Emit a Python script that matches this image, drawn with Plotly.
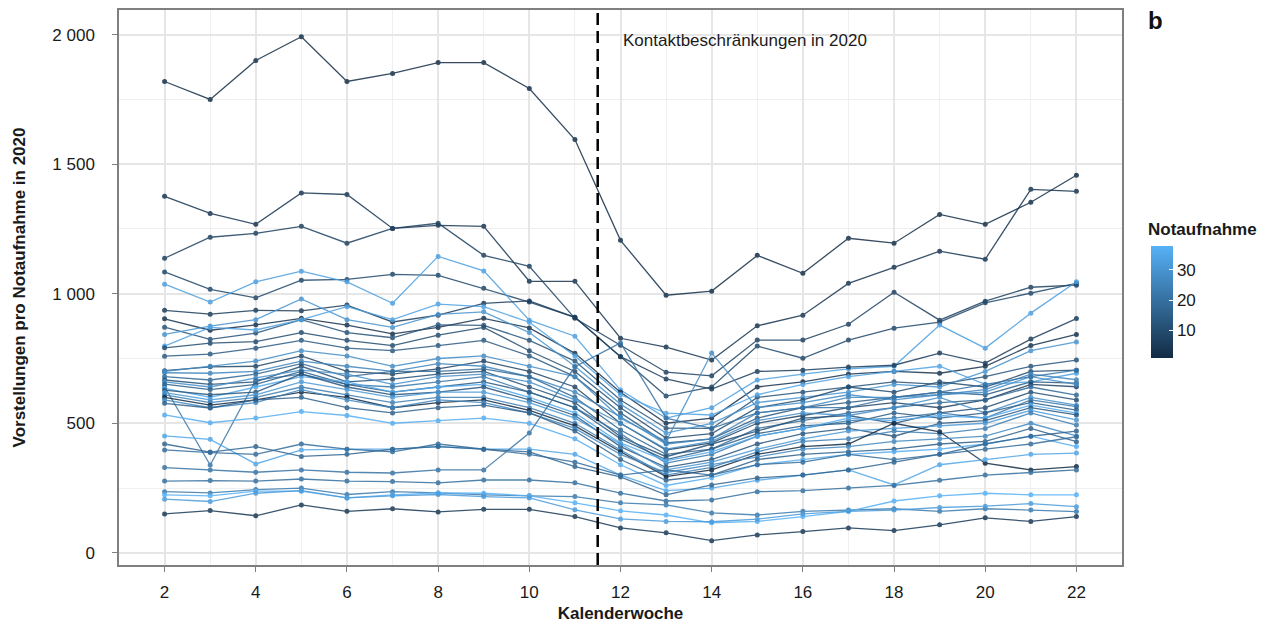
import plotly.graph_objects as go

# Calendar weeks shown on the x axis
weeks = list(range(2, 23))

# Emergency department identifiers (colour scale)
dept_ids = [2, 4, 7, 9, 33, 6, 3, 12, 30, 34, 10, 14, 8, 26, 18, 11, 29, 22, 15, 36,
            13, 31, 24, 1, 27, 16, 37, 28, 35, 17, 19, 21, 20, 23, 38, 32, 5]

# Weekly presentations per emergency department (weeks 2..22)
visits = [
    [1819, 1750, 1900, 1992, 1819, 1850, 1892, 1892, 1792, 1595, 1206, 994, 1010, 1148, 1079, 1214, 1195, 1306, 1268, 1353, 1457],
    [1376, 1310, 1268, 1389, 1383, 1252, 1264, 1260, 1048, 1048, 828, 794, 744, 876, 917, 1040, 1102, 1164, 1133, 1403, 1395],
    [1137, 1218, 1233, 1260, 1195, 1252, 1272, 1148, 1106, 905, 801, 697, 683, 821, 821, 882, 1006, 898, 971, 1025, 1033],
    [1084, 1017, 984, 1052, 1055, 1075, 1071, 1021, 968, 909, 758, 605, 640, 798, 751, 821, 867, 890, 965, 1002, 1040],
    [1037, 968, 1046, 1087, 1046, 963, 1144, 1088, 898, 836, 628, 520, 560, 667, 690, 710, 720, 879, 790, 925, 1046],
    [936, 921, 936, 934, 956, 891, 917, 963, 972, 909, 757, 671, 632, 700, 705, 717, 724, 771, 732, 825, 904],
    [903, 859, 880, 905, 879, 845, 870, 905, 868, 770, 620, 500, 520, 640, 660, 690, 700, 693, 720, 800, 843],
    [871, 824, 848, 900, 850, 830, 880, 878, 820, 740, 590, 481, 480, 600, 620, 640, 660, 650, 680, 720, 744],
    [843, 875, 900, 980, 900, 870, 920, 930, 850, 720, 574, 462, 500, 580, 600, 620, 650, 640, 700, 780, 814],
    [798, 870, 860, 900, 950, 900, 960, 950, 890, 760, 610, 539, 532, 610, 650, 680, 700, 720, 650, 660, 693],
    [791, 809, 815, 850, 820, 800, 840, 870, 780, 700, 560, 443, 460, 560, 590, 640, 620, 660, 640, 700, 705],
    [759, 767, 790, 820, 790, 780, 800, 820, 760, 680, 540, 424, 440, 520, 560, 580, 600, 620, 610, 660, 655],
    [703, 718, 720, 760, 700, 690, 710, 740, 700, 640, 500, 397, 424, 500, 530, 560, 580, 560, 590, 650, 641],
    [695, 693, 700, 740, 720, 700, 730, 720, 680, 620, 525, 420, 440, 540, 560, 600, 600, 610, 630, 690, 668],
    [680, 667, 690, 730, 680, 700, 700, 710, 680, 600, 474, 380, 400, 480, 510, 540, 560, 580, 590, 640, 609],
    [667, 650, 660, 720, 660, 670, 690, 700, 640, 580, 448, 371, 420, 470, 520, 530, 500, 540, 560, 620, 590],
    [660, 640, 675, 705, 690, 650, 680, 690, 660, 590, 500, 400, 430, 510, 540, 530, 560, 600, 540, 600, 570],
    [641, 339, 667, 690, 650, 640, 660, 680, 620, 560, 460, 346, 380, 450, 480, 510, 520, 540, 520, 590, 564],
    [651, 630, 650, 700, 650, 620, 640, 660, 620, 560, 440, 360, 400, 460, 490, 500, 540, 520, 540, 580, 551],
    [635, 600, 640, 680, 660, 620, 640, 650, 600, 540, 424, 355, 390, 450, 480, 520, 510, 530, 520, 570, 539],
    [628, 610, 620, 690, 640, 610, 620, 640, 590, 530, 410, 330, 360, 420, 460, 480, 450, 500, 510, 560, 532],
    [618, 590, 610, 660, 630, 600, 620, 620, 580, 520, 420, 320, 350, 400, 440, 470, 480, 490, 500, 550, 513],
    [610, 580, 600, 640, 610, 580, 600, 600, 560, 500, 397, 300, 330, 390, 430, 440, 470, 460, 480, 540, 493],
    [600, 570, 590, 620, 600, 560, 580, 590, 550, 490, 390, 294, 320, 380, 410, 420, 500, 467, 346, 320, 333],
    [590, 560, 580, 630, 590, 560, 590, 580, 540, 480, 380, 310, 340, 370, 400, 410, 430, 440, 450, 500, 451],
    [577, 559, 590, 600, 560, 540, 560, 570, 540, 470, 360, 280, 300, 360, 380, 390, 400, 420, 430, 480, 429],
    [532, 502, 520, 545, 530, 500, 510, 520, 500, 440, 340, 260, 290, 340, 360, 380, 390, 400, 420, 450, 410],
    [700, 720, 740, 780, 760, 720, 750, 760, 720, 680, 520, 430, 771, 560, 580, 610, 590, 610, 620, 680, 650],
    [451, 438, 343, 397, 400, 400, 410, 400, 400, 380, 300, 240, 250, 280, 300, 320, 262, 340, 360, 380, 385],
    [420, 389, 410, 372, 380, 400, 410, 400, 390, 333, 293, 224, 262, 289, 300, 320, 350, 380, 420, 450, 470],
    [397, 387, 380, 420, 400, 390, 420, 400, 380, 350, 300, 320, 300, 340, 350, 380, 360, 380, 400, 420, 448],
    [329, 320, 311, 320, 311, 308, 320, 320, 462, 718, 810, 520, 480, 540, 560, 560, 600, 620, 650, 680, 705],
    [277, 279, 277, 285, 277, 275, 270, 281, 281, 270, 230, 200, 204, 236, 240, 250, 260, 280, 300, 310, 320],
    [236, 231, 244, 250, 225, 236, 231, 224, 220, 217, 193, 185, 154, 146, 160, 165, 170, 160, 170, 165, 159],
    [224, 220, 238, 238, 212, 224, 231, 230, 220, 193, 162, 146, 116, 121, 140, 160, 200, 220, 230, 224, 224],
    [207, 198, 230, 240, 212, 220, 225, 217, 212, 166, 131, 121, 120, 130, 150, 160, 165, 175, 180, 190, 178],
    [150, 163, 143, 185, 160, 170, 158, 168, 168, 140, 96, 77, 47, 69, 82, 96, 86, 108, 135, 121, 140],
]

y_tickvals = [0, 500, 1000, 1500, 2000]
y_ticktext = ["0", "500", "1 000", "1 500", "2 000"]
x_tickvals = [2, 4, 6, 8, 10, 12, 14, 16, 18, 20, 22]

id_min, id_max = 1, 38
low_rgb = (0x13, 0x2B, 0x43)
high_rgb = (0x56, 0xB1, 0xF7)


def id_colour(v):
    t = (v - id_min) / (id_max - id_min)
    r, g, b = (round(lo + (hi - lo) * t) for lo, hi in zip(low_rgb, high_rgb))
    return f"rgb({r},{g},{b})"


FONT = "Liberation Sans, Arial, sans-serif"
TXT = "#1a1a1a"

# plot area in pixels
L, R, T, B = 119, 1122, 8, 565
W, H = 1271, 629
pw, ph = R - L, B - T


def px_x(x):
    return (x - L) / pw


def px_y(y):
    return (B - y) / ph


fig = go.Figure()

for dept, series in zip(dept_ids, visits):
    c = id_colour(dept)
    fig.add_trace(go.Scatter(
        x=weeks, y=series, mode="lines+markers",
        line=dict(color=c, width=1.3),
        marker=dict(color=c, size=5),
        opacity=0.85, showlegend=False, hoverinfo="skip",
    ))

# colour bar for department id
fig.add_trace(go.Scatter(
    x=[None], y=[None], mode="markers", showlegend=False,
    marker=dict(
        color=[id_min, id_max], cmin=id_min, cmax=id_max,
        colorscale=[[0, "#132B43"], [1, "#56B1F7"]], showscale=True,
        colorbar=dict(
            tickvals=[10, 20, 30], ticks="inside", ticklen=4, tickcolor="white",
            tickfont=dict(family=FONT, size=17, color=TXT),
            thicknessmode="pixels", thickness=22,
            lenmode="pixels", len=112,
            x=px_x(1151), xanchor="left", y=px_y(357), yanchor="bottom",
            outlinewidth=0, xpad=0, ypad=0,
        ),
    ),
))

# start of contact restrictions
fig.add_vline(x=11.5, line=dict(color="black", width=2.5, dash="12px,6px"))

fig.add_annotation(x=12.0, y=1977, xref="x", yref="y", text="Kontaktbeschränkungen in 2020",
                   showarrow=False, xanchor="left", yanchor="middle",
                   font=dict(family=FONT, size=17, color=TXT))
fig.add_annotation(x=px_x(1155), y=px_y(19), xref="paper", yref="paper", text="<b>b</b>",
                   showarrow=False, xanchor="center", yanchor="middle",
                   font=dict(family=FONT, size=24, color="#111"))
fig.add_annotation(x=px_x(1146), y=px_y(228), xref="paper", yref="paper",
                   text="<b>Notaufnahme</b>", showarrow=False,
                   xanchor="left", yanchor="middle",
                   font=dict(family=FONT, size=17, color=TXT))

grid = "#e6e6e6"
fig.update_layout(
    width=W, height=H,
    margin=dict(l=L, r=W - R, t=T, b=H - B),
    plot_bgcolor="white", paper_bgcolor="white",
    font=dict(family=FONT, size=17, color=TXT),
    xaxis=dict(
        range=[1, 23], tickvals=x_tickvals,
        showgrid=True, gridcolor=grid, gridwidth=1.5,
        minor=dict(dtick=1, tick0=1, showgrid=True, gridcolor="#efefef", gridwidth=1),
        showline=True, linecolor="#7f7f7f", linewidth=1.5, mirror=True,
        ticks="outside", ticklen=5, tickcolor="#7f7f7f", ticklabelstandoff=6,
        zeroline=False,
        title=dict(text="<b>Kalenderwoche</b>", standoff=6,
                   font=dict(family=FONT, size=17, color=TXT)),
    ),
    yaxis=dict(
        range=[-47, 2095], tickvals=y_tickvals, ticktext=y_ticktext,
        showgrid=True, gridcolor=grid, gridwidth=1.5,
        minor=dict(dtick=250, tick0=250, showgrid=True, gridcolor="#efefef", gridwidth=1),
        showline=True, linecolor="#7f7f7f", linewidth=1.5, mirror=True,
        ticks="outside", ticklen=5, tickcolor="#7f7f7f", ticklabelstandoff=14,
        zeroline=False,
        title=dict(text="<b>Vorstellungen pro Notaufnahme in 2020</b>", standoff=22,
                   font=dict(family=FONT, size=17, color=TXT)),
    ),
)

fig.write_html("out.html")
